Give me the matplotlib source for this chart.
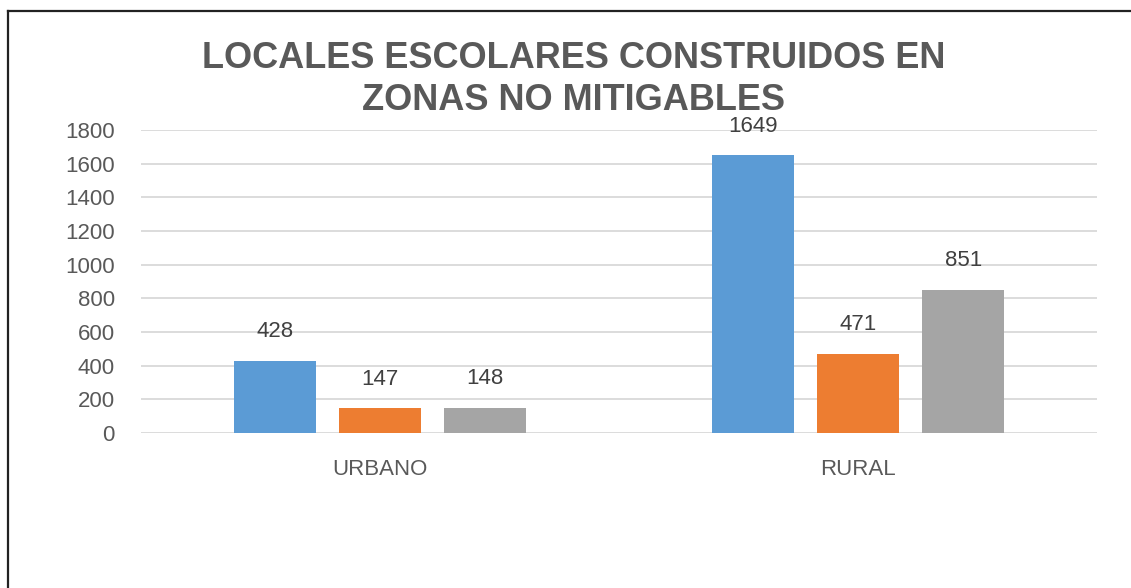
import matplotlib.pyplot as plt
import numpy as np
from matplotlib.lines import Line2D

categories = ["URBANO", "RURAL"]
serie_1 = [428, 1649]
serie_2 = [147, 471]
serie_3 = [148, 851]
colors = ["#5B9BD5", "#ED7D31", "#A5A5A5"]

plt.rcParams["font.family"] = "Liberation Sans"

fig = plt.figure(figsize=(11.31, 5.88), dpi=100)
ax = fig.add_axes([0.1247, 0.2636, 0.9699 - 0.1247, 0.7789 - 0.2636])

x = np.arange(len(categories))
width = 0.172
offsets = [-0.22, 0.0, 0.22]

for serie, off, col in zip([serie_1, serie_2, serie_3], offsets, colors):
    bars = ax.bar(x + off, serie, width, color=col, zorder=3)
    for b, v in zip(bars, serie):
        ax.annotate(str(v), (b.get_x() + b.get_width() / 2, v),
                    xytext=(0, 17), textcoords="offset points",
                    ha="center", va="baseline", fontsize=16, color="#404040")

ax.set_xlim(-0.5, 1.5)
ax.set_ylim(0, 1800)
ax.set_yticks(range(0, 1801, 200))
ax.set_xticks(x)
ax.set_xticklabels(categories)
ax.tick_params(axis="y", length=0, pad=19, labelsize=16, labelcolor="#595959")
ax.tick_params(axis="x", length=0, pad=19, labelsize=16, labelcolor="#595959")
ax.grid(axis="y", color="#d9d9d9", linewidth=1.3, zorder=0)
for s in ax.spines.values():
    s.set_visible(False)

fig.text(0.5075, 0.8844, "LOCALES ESCOLARES CONSTRUIDOS EN", ha="center",
         va="baseline", fontsize=26, fontweight="bold", color="#595959")
fig.text(0.5075, 0.8129, "ZONAS NO MITIGABLES", ha="center",
         va="baseline", fontsize=26, fontweight="bold", color="#595959")

# marco recortado (solo borde izquierdo y superior)
fig.add_artist(Line2D([0.0071, 0.0071], [0.0, 0.9813], color="#222222", linewidth=1.6))
fig.add_artist(Line2D([0.0071, 1.0], [0.9813, 0.9813], color="#222222", linewidth=1.6))

fig.savefig("out.png", dpi=100)
